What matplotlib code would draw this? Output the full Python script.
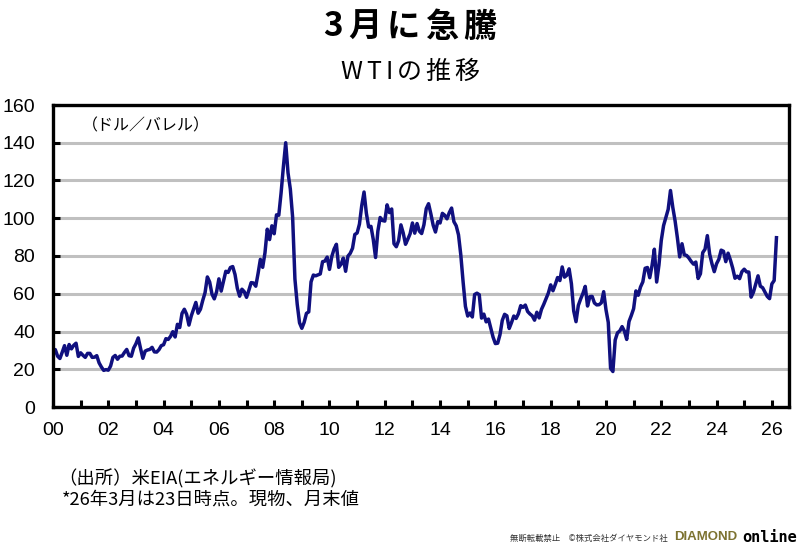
import matplotlib
matplotlib.use("Agg")
import matplotlib.pyplot as plt
import numpy as np
from matplotlib.ticker import MultipleLocator, FixedLocator

NAVY = "#10107f"; GRID = "#c0c0c0"; OLIVE = "#7d7331"
JP = ["Noto Sans CJK JP", "DejaVu Sans"]
W, H = 800, 551

# WTI spot, month-end, USD/bbl, Jan 2000 .. Mar 2026
y2000 = [27.6, 30.4, 26.9, 25.7, 29.0, 32.5, 27.4, 33.1, 30.8, 32.7, 33.8, 26.8]
y2001 = [28.7, 27.4, 26.3, 28.4, 28.4, 26.3, 26.4, 27.2, 23.4, 21.2, 19.4, 19.8]
y2002 = [19.5, 21.7, 26.3, 27.3, 25.3, 26.9, 27.0, 28.9, 30.5, 27.2, 26.9, 31.2]
y2003 = [33.5, 36.6, 31.0, 25.8, 29.6, 30.2, 30.5, 31.6, 29.2, 29.1, 30.4, 32.5]
y2004 = [33.0, 36.2, 35.8, 37.4, 39.9, 37.1, 43.8, 42.1, 49.6, 51.8, 49.1, 43.4]
y2005 = [48.2, 51.8, 55.4, 49.7, 51.8, 56.5, 60.6, 68.9, 66.2, 59.8, 57.3, 61.0]
y2006 = [67.9, 61.4, 66.6, 71.9, 71.3, 73.9, 74.4, 70.2, 62.9, 58.7, 62.4, 61.1]
y2007 = [58.1, 61.8, 65.9, 65.7, 64.0, 70.7, 78.2, 74.0, 81.7, 94.2, 88.7, 96.0]
y2008 = [91.8, 101.8, 101.6, 113.5, 127.4, 140.0, 124.1, 115.5, 100.6, 67.8, 54.4, 44.6]
y2009 = [41.7, 44.8, 49.6, 50.4, 66.3, 69.9, 69.5, 70.0, 70.5, 77.0, 77.3, 79.4]
y2010 = [72.9, 79.7, 83.7, 86.2, 74.0, 75.6, 78.9, 71.9, 79.9, 81.4, 84.1, 91.4]
y2011 = [92.2, 96.9, 106.7, 113.9, 102.7, 95.4, 95.7, 88.8, 79.2, 93.2, 100.4, 98.8]
y2012 = [98.5, 107.1, 103.0, 104.9, 86.5, 84.9, 88.1, 96.5, 92.2, 86.2, 88.9, 91.8]
y2013 = [97.5, 92.1, 97.2, 93.2, 91.9, 96.6, 105.1, 107.7, 102.3, 96.3, 92.7, 98.2]
y2014 = [97.5, 102.6, 101.6, 99.7, 103.0, 105.4, 98.2, 96.0, 91.2, 80.5, 66.2, 53.3]
y2015 = [48.2, 49.8, 47.7, 59.6, 60.3, 59.5, 47.1, 49.2, 45.1, 46.6, 41.7, 37.0]
y2016 = [33.6, 33.8, 38.3, 45.9, 49.1, 48.3, 41.6, 44.7, 48.2, 46.9, 49.4, 53.7]
y2017 = [52.8, 54.0, 50.6, 49.3, 48.3, 46.0, 50.2, 47.2, 51.7, 54.4, 57.4, 60.4]
y2018 = [64.7, 61.6, 64.9, 68.6, 67.0, 74.2, 68.8, 69.8, 73.2, 65.3, 50.9, 45.2]
y2019 = [53.8, 57.2, 60.2, 63.9, 53.5, 58.5, 58.6, 55.1, 54.1, 54.2, 55.2, 61.1]
y2020 = [51.6, 44.8, 20.5, 18.8, 35.5, 39.3, 40.3, 42.6, 40.2, 35.8, 45.3, 48.5]
y2021 = [52.1, 61.5, 59.2, 63.6, 66.3, 73.5, 73.9, 68.5, 75.0, 83.6, 66.2, 75.3]
y2022 = [88.2, 96.1, 100.5, 104.7, 114.7, 105.8, 98.6, 89.6, 79.5, 86.5, 80.6, 80.3]
y2023 = [78.9, 77.1, 75.7, 76.8, 68.1, 70.6, 81.8, 83.6, 90.8, 81.0, 75.9, 71.7]
y2024 = [75.9, 78.3, 83.1, 82.5, 77.0, 81.5, 77.9, 73.6, 68.2, 69.3, 68.0, 71.7]
y2025 = [73.0, 71.6, 71.5, 58.2, 60.8, 65.1, 69.5, 64.0, 63.2, 60.9, 58.6, 57.4]
y2026 = [65.2, 67.0, 89.7]

wti = np.array(y2000 + y2001 + y2002 + y2003 + y2004 + y2005 + y2006 + y2007
               + y2008 + y2009 + y2010 + y2011 + y2012 + y2013 + y2014 + y2015
               + y2016 + y2017 + y2018 + y2019 + y2020 + y2021 + y2022 + y2023
               + y2024 + y2025 + y2026)
years = np.arange(len(wti)) / 12.0          # years since Jan 2000
year_labels = [f"{y:02d}" for y in range(0, 27, 2)]


def spaced(fig, xc, yc, s, size, gap, **kw):
    # centred text with extra letter spacing (pixels)
    r = fig.canvas.get_renderer()
    widths = []
    for ch in s:
        t = fig.text(0, 0, ch, fontsize=size, **kw)
        widths.append(t.get_window_extent(r).width)
        t.remove()
    x = xc - (sum(widths) + gap * (len(s) - 1)) / 2
    for ch, w in zip(s, widths):
        fig.text(x / W, 1 - yc / H, ch, fontsize=size, ha="left", va="center", **kw)
        x += w + gap


fig = plt.figure(figsize=(W / 100, H / 100), dpi=100)
ax = fig.add_axes([53 / W, 1 - 407 / H, (789 - 53) / W, (407 - 105) / H])

ax.plot(years, wti, color=NAVY, lw=2.5, solid_joinstyle="round", zorder=3)

ax.set_xlim(0, 26.62)
ax.set_ylim(0, 160)
ax.xaxis.set_major_locator(FixedLocator(range(0, 27, 2)))
ax.xaxis.set_minor_locator(FixedLocator(range(1, 27, 2)))
ax.set_xticklabels(year_labels)
ax.yaxis.set_major_locator(MultipleLocator(20))
ax.tick_params(which="both", direction="in", length=5, width=2.2, color="black",
               labelsize=14, top=False, right=False)
ax.tick_params(axis="x", pad=11)
ax.tick_params(axis="y", pad=13)
for lab in ax.get_xticklabels() + ax.get_yticklabels():
    lab.set_family(["Liberation Sans", "DejaVu Sans"])

ax.grid(axis="y", color=GRID, lw=2.2)
ax.set_axisbelow(True)
for s in ax.spines.values():
    s.set_linewidth(2.4)
    s.set_color("black")
    s.set_zorder(4)

ax.text(82 / W, 1 - 126 / H, "（ドル／バレル）", transform=fig.transFigure,
        ha="left", va="center", fontsize=11.5, family=JP)

# titles
spaced(fig, 410, 27, "3月に急騰", 24, 5, family=JP, fontweight="bold")
spaced(fig, 410, 72, "WTIの推移", 18, 4, family=JP)

# footnotes
fig.text(58 / W, 1 - 479 / H, "（出所）米EIA(エネルギー情報局)", ha="left", va="center",
         fontsize=13.2, family=JP)
fig.text(62 / W, 1 - 500 / H, "*26年3月は23日時点。現物、月末値", ha="left", va="center",
         fontsize=13.2, family=JP)

# branding
fig.text(668 / W, 1 - 538 / H, "無断転載禁止　©株式会社ダイヤモンド社", ha="right", va="center",
         fontsize=6, family=JP, color="#333333")
fig.text(737 / W, 1 - 537 / H, "DIAMOND", ha="right", va="center", fontsize=9.5,
         fontweight="bold", color=OLIVE, family=["Liberation Sans", "DejaVu Sans"])
fig.text(797 / W, 1 - 537 / H, "online", ha="right", va="center", fontsize=11,
         fontweight="bold", color="black", family=["DejaVu Sans Mono"])

fig.savefig("out.png", dpi=100, facecolor="white")
plt.close(fig)
